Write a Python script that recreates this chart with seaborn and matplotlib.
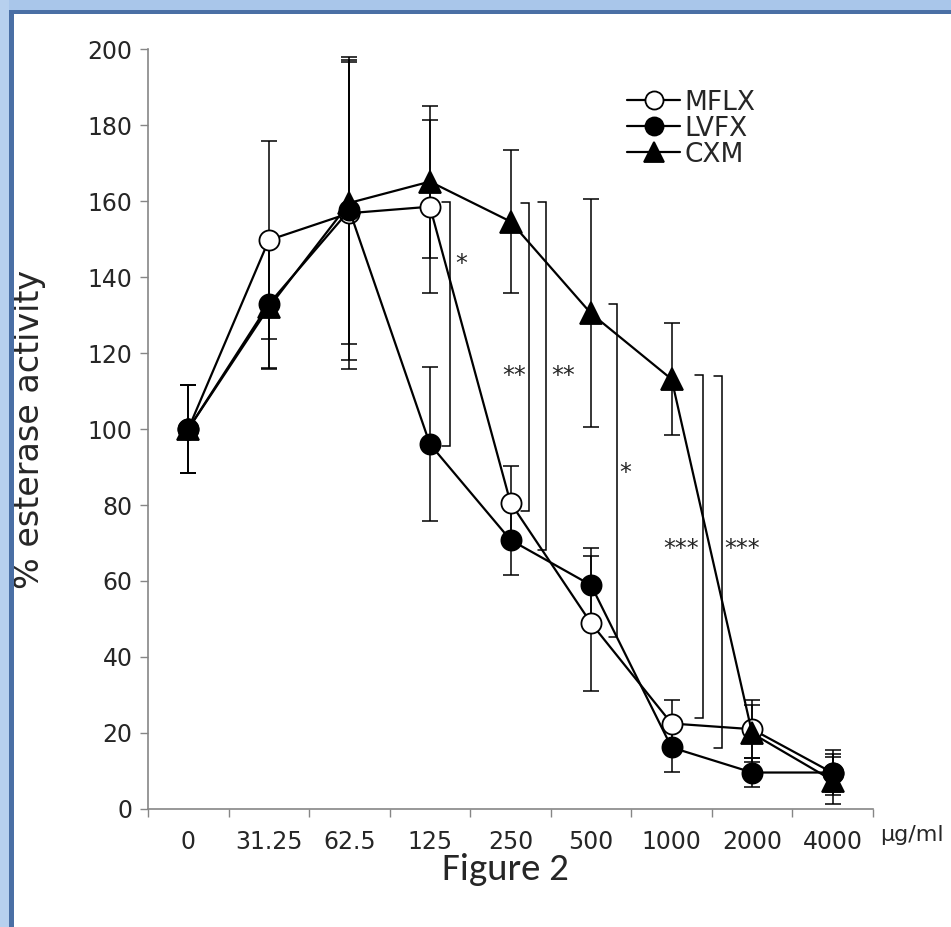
import numpy as np
import pandas as pd
import matplotlib
matplotlib.use("Agg")
import matplotlib.pyplot as plt
import seaborn as sns
from matplotlib import font_manager
from matplotlib.lines import Line2D
from matplotlib.patches import Rectangle

# ---------------- data ----------------
concentrations = ["0", "31.25", "62.5", "125", "250", "500", "1000", "2000", "4000"]
mflx = [100, 149.7, 156.8, 158.5, 80.6, 48.9, 22.5, 21.0, 9.5]
mflx_err = [11.7, 26.0, 41.0, 22.8, 9.7, 17.8, 6.2, 7.7, 5.0]
lvfx = [100, 132.9, 157.6, 96.0, 70.8, 58.9, 16.2, 9.6, 9.6]
lvfx_err = [11.7, 17.1, 39.5, 20.3, 9.1, 9.7, 6.5, 3.7, 6.0]
cxm = [100, 132.0, 159.5, 165.1, 154.6, 130.4, 113.1, 19.9, 7.5]
cxm_err = [11.7, 16.0, 37.0, 20.0, 18.9, 30.0, 14.8, 7.5, 6.2]

series_names = ["MFLX", "LVFX", "CXM"]

# significance brackets: (x position, top, bottom, label, label x, label y)
brackets = [
    (3.25, 159.7, 95.5, "*", 3.39, 145.3),
    (4.23, 159.6, 78.4, "**", 4.05, 115.8),
    (4.44, 159.7, 68.2, "**", 4.66, 115.8),
    (5.32, 132.8, 45.2, "*", 5.43, 90.5),
    (6.39, 114.2, 24.0, "***", 6.12, 70.3),
    (6.62, 114.0, 16.0, "***", 6.87, 70.3),
]

# ---------------- fonts ----------------
available = {f.name for f in font_manager.fontManager.ttflist}
def pick(*names):
    for n in names:
        if n in available:
            return n
    return "DejaVu Sans"

caption_font = pick("Carlito", "Lato", "Open Sans", "DejaVu Sans")

sns.set_theme(style="white")
plt.rcParams["font.family"] = ["DejaVu Sans"]

W, H = 951, 927
fig = plt.figure(figsize=(W / 100, H / 100), dpi=100)
fig.patch.set_facecolor("white")

# blue frame
light = "#a9c6ea"
dark = "#4a6fa5"
fig.patches.append(Rectangle((0, 1 - 10 / H), 1, 10 / H, transform=fig.transFigure,
                             facecolor=light, edgecolor="none", zorder=0))
fig.patches.append(Rectangle((0, 0), 9 / W, 1, transform=fig.transFigure,
                             facecolor="#b7d0ee", edgecolor="none", zorder=0))
fig.patches.append(Rectangle((9 / W, 0), 5 / W, 1 - 10 / H, transform=fig.transFigure,
                             facecolor=dark, edgecolor="none", zorder=1))
fig.patches.append(Rectangle((9 / W, 1 - 14 / H), 1 - 9 / W, 4 / H, transform=fig.transFigure,
                             facecolor=dark, edgecolor="none", zorder=1))

ax = fig.add_axes([148 / W, 1 - 809 / H, (873 - 148) / W, (809 - 49) / H])
ax.set_facecolor("white")

x = np.arange(len(concentrations))
df = pd.DataFrame({"x": np.tile(x, 3),
                   "value": mflx + lvfx + cxm,
                   "err": mflx_err + lvfx_err + cxm_err,
                   "drug": np.repeat(series_names, len(concentrations))})

styles = {
    "MFLX": dict(marker="o", markerfacecolor="white", z=3),
    "LVFX": dict(marker="o", markerfacecolor="black", z=5),
    "CXM": dict(marker="^", markerfacecolor="black", z=4),
}

for name in series_names:
    sub = df[df["drug"] == name]
    ax.errorbar(sub["x"], sub["value"], yerr=sub["err"], fmt="none", ecolor="black",
                elinewidth=1.1, capsize=5.5, capthick=1.1, zorder=2)
for name in series_names:
    sub = df[df["drug"] == name]
    st = styles[name]
    sns.lineplot(data=sub, x="x", y="value", ax=ax, color="black", linewidth=1.6,
                 marker=st["marker"], markersize=14.5 if st["marker"] == "o" else 15.5,
                 markerfacecolor=st["markerfacecolor"], markeredgecolor="black",
                 markeredgewidth=1.3, zorder=st["z"], legend=False)

for bx, top, bot, lab, lx, ly in brackets:
    dx = 0.1
    ax.plot([bx - dx, bx, bx, bx - dx], [top, top, bot, bot], color="black",
            linewidth=1.1, zorder=6, solid_joinstyle="miter")
    ax.text(lx, ly - 3.8, lab, ha="center", va="baseline", fontsize=17, zorder=7)

ax.set_xlim(-0.5, 8.5)
ax.set_ylim(0, 200)
ax.set_yticks(np.arange(0, 201, 20))
ax.set_xticks(x)
ax.set_xticklabels(concentrations)
ax.set_xticks(np.arange(-0.5, 9, 1), minor=True)
ax.tick_params(axis="x", which="major", length=0, pad=15, labelsize=17)
ax.tick_params(axis="x", which="minor", length=6, width=1, color="#868686", direction="out",
               bottom=True)
ax.tick_params(axis="y", which="major", length=6, width=1, color="#868686", direction="out",
               pad=5, labelsize=17, left=True)
for side in ["top", "right"]:
    ax.spines[side].set_visible(False)
for side in ["left", "bottom"]:
    ax.spines[side].set_color("#868686")
    ax.spines[side].set_linewidth(1.2)
ax.grid(False)
ax.set_xlabel("")
ax.set_ylabel("% esterase activity", fontsize=24)
ax.yaxis.set_label_coords(-0.141, 0.5)

# legend drawn in figure pixel coordinates
for i, name in enumerate(series_names):
    yc = 1 - (100 + 26 * i) / H
    st = styles[name]
    fig.add_artist(Line2D([627 / W, 680 / W], [yc, yc], transform=fig.transFigure,
                          color="black", linewidth=1.6))
    fig.add_artist(Line2D([653.5 / W], [yc], transform=fig.transFigure, color="black",
                          marker=st["marker"], markersize=13 if st["marker"] == "o" else 14,
                          markerfacecolor=st["markerfacecolor"], markeredgecolor="black",
                          markeredgewidth=1.3, linestyle="none"))
    fig.text(684 / W, yc, name, ha="left", va="center_baseline", fontsize=19)

fig.text(912 / W, 1 - 835 / H, "µg/ml", ha="center", va="center", fontsize=16)
fig.text(505 / W, 1 - 869 / H, "Figure 2", ha="center", va="center", fontsize=28,
         family=[caption_font, "DejaVu Sans"])

fig.savefig("out.png", dpi=100, facecolor="white")
